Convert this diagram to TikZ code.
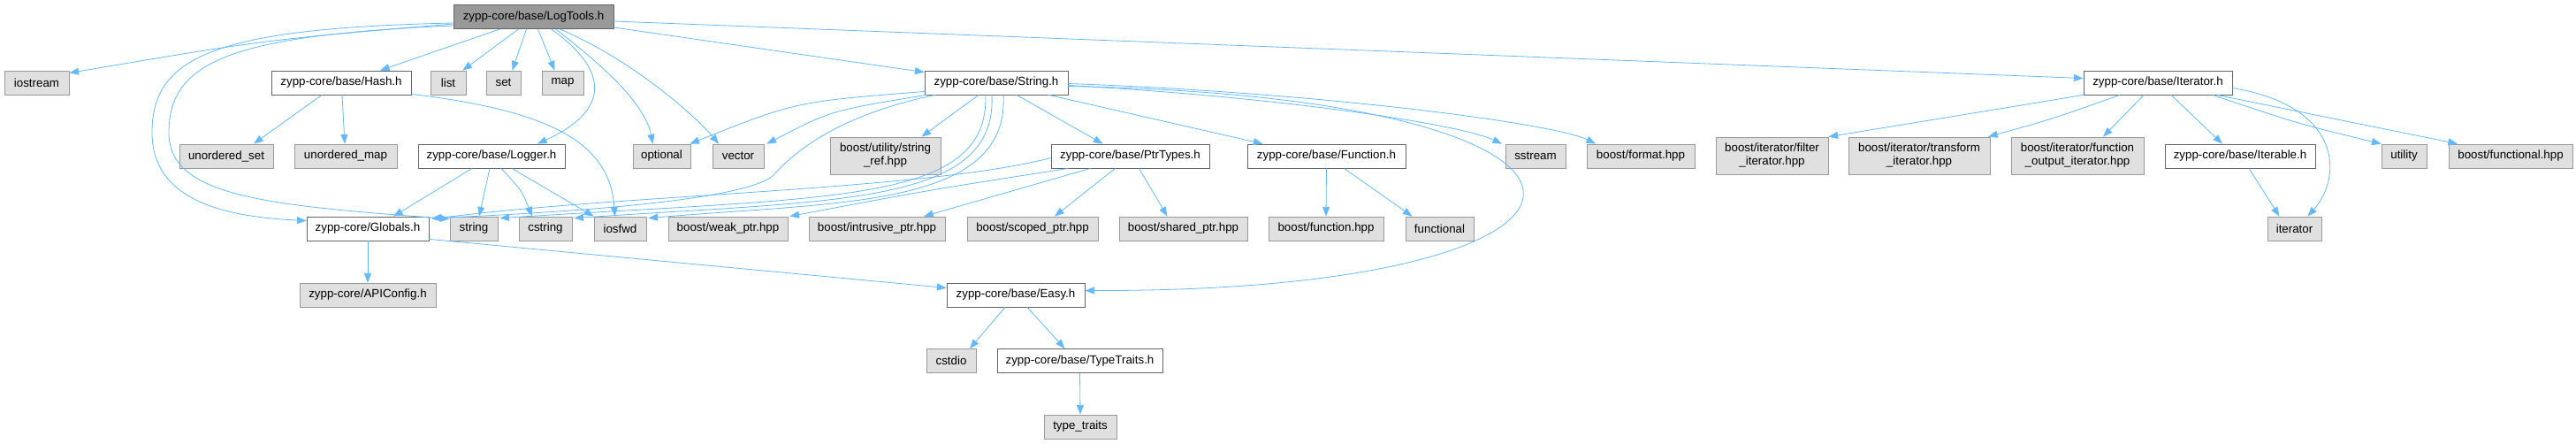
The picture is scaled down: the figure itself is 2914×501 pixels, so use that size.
\documentclass[tikz,border=0pt]{standalone}
\usepackage{fontspec}
\setmainfont{Liberation Sans}
\usepackage{tikz}
\usetikzlibrary{calc,positioning,arrows.meta}
\definecolor{edgeblue}{HTML}{63B8FF}
\definecolor{extfill}{HTML}{E0E0E0}
\definecolor{extdraw}{HTML}{999999}
\definecolor{rootfill}{HTML}{999999}
\definecolor{hdrdraw}{HTML}{666666}

\begin{document}
\begin{tikzpicture}[x=0.75pt, y=-0.75pt,
  box/.style={draw, line width=0.6pt, inner sep=0pt, minimum height=20.25pt, font=\fontsize{10}{11.25}\selectfont},
  hdr/.style={box, draw=hdrdraw, fill=white, minimum width=#1*0.75pt},
  sys/.style={box, draw=extdraw, fill=extfill, minimum width=#1*0.75pt},
  sys2/.style={sys=#1, minimum height=31.5pt, align=center},
  root/.style={box, draw=hdrdraw, fill=rootfill, minimum width=#1*0.75pt},
  inc/.style={draw=edgeblue, line width=0.6pt, -{Triangle[length=8pt,width=6pt]}}]
\useasboundingbox (0,0) rectangle (2914,501);

% row 0
\node[root=181] (logtools) at (603.5,19) {zypp-core/base/LogTools.h};
% row 1
\node[sys=73] (iostream) at (41.5,93.5) {iostream};
\node[hdr=158] (hash) at (386,93.5) {zypp-core/base/Hash.h};
\node[sys=40] (list) at (507,93.5) {list};
\node[sys=39] (set) at (569.5,93.5) {set};
\node[sys=47] (map) at (636.5,93.5) {map};
\node[hdr=162] (strh) at (1127,93.5) {zypp-core/base/String.h};
\node[hdr=168] (iterh) at (2441,93.5) {zypp-core/base/Iterator.h};
% row 2
\node[sys=106] (uset) at (256,176.5) {unordered\_set};
\node[sys=116] (umap) at (391,176.5) {unordered\_map};
\node[hdr=166] (logger) at (556,176.5) {zypp-core/base/Logger.h};
\node[sys=65] (optional) at (748.5,176.5) {optional};
\node[sys=58] (vector) at (835,176.5) {vector};
\node[sys2=125] (stringref) at (1001.5,176) {boost/utility/string\\\_ref.hpp};
\node[hdr=179] (ptrtypes) at (1278.5,176.5) {zypp-core/base/PtrTypes.h};
\node[hdr=179] (function) at (1500.5,176.5) {zypp-core/base/Function.h};
\node[sys=68] (sstream) at (1737,176.5) {sstream};
\node[sys=122] (format) at (1856,176.5) {boost/format.hpp};
\node[sys2=127] (filter) at (2004.5,176) {boost/iterator/filter\\\_iterator.hpp};
\node[sys2=160] (transform) at (2171,176) {boost/iterator/transform\\\_iterator.hpp};
\node[sys2=150] (funcout) at (2350,176) {boost/iterator/function\\\_output\_iterator.hpp};
\node[hdr=170] (iterable) at (2534,176.5) {zypp-core/base/Iterable.h};
\node[sys=51] (utility) at (2719.5,176.5) {utility};
\node[sys=140] (bfunctional) at (2840,176.5) {boost/functional.hpp};
% row 3
\node[hdr=138] (globals) at (416,258.5) {zypp-core/Globals.h};
\node[sys=54] (string) at (536,258.5) {string};
\node[sys=60] (cstring) at (617,258.5) {cstring};
\node[sys=59] (iosfwd) at (701.5,258.5) {iosfwd};
\node[sys=135] (weakptr) at (823.5,258.5) {boost/weak\_ptr.hpp};
\node[sys=154] (intrusiveptr) at (992,258.5) {boost/intrusive\_ptr.hpp};
\node[sys=148] (scopedptr) at (1168,258.5) {boost/scoped\_ptr.hpp};
\node[sys=145] (sharedptr) at (1338.5,258.5) {boost/shared\_ptr.hpp};
\node[sys=130] (bfunction) at (1500,258.5) {boost/function.hpp};
\node[sys=77] (functional) at (1628.5,258.5) {functional};
\node[sys=61] (iterator) at (2595.5,258.5) {iterator};
% rows 4 to 6
\node[sys=154] (apiconfig) at (416,333.5) {zypp-core/APIConfig.h};
\node[hdr=156] (easy) at (1149,333.5) {zypp-core/base/Easy.h};
\node[sys=56] (cstdio) at (1076,408) {cstdio};
\node[hdr=187] (typetraits) at (1221.5,408) {zypp-core/base/TypeTraits.h};
\node[sys=82] (traits) at (1222,482.5) {type\_traits};

% LogTools.h
\draw[inc] ($(logtools.west)+(0,8)$) .. controls (300,45) .. ($(iostream.east)+(0,-11)$);
\draw[inc] ($(logtools.west)+(0,7)$) .. controls (240,32) and (172,65) .. (172,150)
  .. controls (172,225) and (250,245) .. ($(globals.west)+(0,-9)$);
\draw[inc] ($(logtools.west)+(0,10)$) .. controls (260,40) and (191,70) .. (191,150)
  .. controls (191,222) and (300,232) .. ($(string.west)+(0,-11)$);
\draw[inc] ($(logtools.south)+(-38,0)$) -- ($(hash.north)+(44,0)$);
\draw[inc] ($(logtools.south)+(-17,0)$) -- ($(list.north east)+(-4,0)$);
\draw[inc] ($(logtools.south)+(-8,0)$) -- ($(set.north)+(10,0)$);
\draw[inc] ($(logtools.south)+(5,0)$) -- ($(map.north)+(-9,0)$);
\draw[inc] ($(logtools.south)+(20,0)$) .. controls (690,80) and (690,125) .. ($(logger.north)+(52,0)$);
\draw[inc] ($(logtools.south)+(25,0)$) .. controls (690,80) and (730,120) .. ($(optional.north)+(-10,0)$);
\draw[inc] ($(logtools.south)+(30,0)$) .. controls (720,70) and (790,135) .. ($(vector.north)+(-22,0)$);
\draw[inc] ($(logtools.east)+(0,12)$) -- ($(strh.north west)+(0,2)$);
\draw[inc] ($(logtools.east)+(0,5)$) -- ($(iterh.west)+(0,-5)$);

% Hash.h
\draw[inc] ($(hash.south)+(-22,0)$) -- ($(uset.north)+(31,0)$);
\draw[inc] ($(hash.south)+(1,0)$) -- ($(umap.north)+(-1,0)$);
\draw[inc] ($(hash.south east)+(0,-1)$) .. controls (620,125) and (690,160) .. ($(iosfwd.north)+(-6,0)$);

% Logger.h
\draw[inc] ($(logger.south)+(-22,0)$) -- ($(globals.north)+(29,0)$);
\draw[inc] ($(logger.south)+(-2,0)$) -- ($(string.north)+(6,0)$);
\draw[inc] ($(logger.south)+(11,0)$) .. controls (590,215) .. ($(cstring.north)+(-15,0)$);
\draw[inc] ($(logger.south)+(23,0)$) -- (iosfwd.north west);

% String.h
\draw[inc] ($(strh.south)+(-20,0)$) -- ($(stringref.north)+(41,0)$);
\draw[inc] ($(strh.south)+(23,0)$) -- ($(ptrtypes.north)+(-31,0)$);
\draw[inc] ($(strh.south east)+(-22,0)$) -- ($(function.north)+(-72,0)$);
\draw[inc] ($(strh.east)+(0,3)$) .. controls (1450,110) and (1650,140) .. ($(sstream.north)+(-38,0)$);
\draw[inc] ($(strh.east)+(0,1)$) .. controls (1500,105) and (1760,140) .. ($(format.north)+(-51,0)$);
\draw[inc] ($(strh.east)+(0,4)$) .. controls (1900,110) and (1880,330) .. ($(easy.east)+(0,-5)$);
\draw[inc] ($(strh.west)+(0,10)$) .. controls (900,115) .. ($(optional.north east)+(-1,0)$);
\draw[inc] ($(strh.south west)+(2,0)$) .. controls (940,125) .. ($(vector.north east)+(3,0)$);
\draw[inc] ($(strh.south west)+(12,0)$) .. controls (950,130) and (900,170) .. (875,198)
  .. controls (845,226) and (650,240) .. ($(globals.north east)+(3,2)$);
\draw[inc] ($(strh.south)+(-12,0)$) .. controls (1118,230) and (950,222) .. ($(string.north east)+(2,2)$);
\draw[inc] ($(strh.south)+(-5,0)$) .. controls (1128,232) and (950,226) .. ($(cstring.north east)+(2,2)$);
\draw[inc] ($(strh.south)+(8,0)$) .. controls (1142,235) and (950,228) .. ($(iosfwd.north east)+(2,2)$);

% PtrTypes.h
\draw[inc] ($(ptrtypes.west)+(0,2)$) .. controls (1050,215) and (700,220) .. ($(globals.north east)+(3,3)$);
\draw[inc] ($(ptrtypes.south west)+(20,0)$) .. controls (1050,215) .. ($(weakptr.north east)+(2,0)$);
\draw[inc] ($(ptrtypes.south)+(-45,0)$) -- ($(intrusiveptr.north)+(53,0)$);
\draw[inc] ($(ptrtypes.south)+(-17,0)$) -- ($(scopedptr.north)+(25,0)$);
\draw[inc] ($(ptrtypes.south)+(10,0)$) -- ($(sharedptr.north)+(-18,0)$);

% Function.h
\draw[inc] (function.south) -- (bfunction.north);
\draw[inc] ($(function.south)+(20,0)$) -- ($(functional.north)+(-31,0)$);

% Iterator.h
\draw[inc] (iterh.south west) .. controls (2250,125) .. (filter.north east);
\draw[inc] ($(iterh.south)+(-43,0)$) .. controls (2320,135) .. ($(transform.north)+(78,0)$);
\draw[inc] ($(iterh.south)+(-16,0)$) -- ($(funcout.north)+(29,0)$);
\draw[inc] ($(iterh.south)+(15,0)$) -- ($(iterable.north)+(-20,0)$);
\draw[inc] ($(iterh.south)+(62,0)$) .. controls (2600,140) .. (utility.north west);
\draw[inc] ($(iterh.south)+(67,0)$) -- ($(bfunctional.north)+(-60,0)$);
\draw[inc] ($(iterh.east)+(0,6)$) .. controls (2650,120) and (2650,200) .. ($(iterator.north)+(15,0)$);
\draw[inc] ($(iterable.south)+(10,0)$) -- ($(iterator.north)+(-17,0)$);

% Globals.h, Easy.h, TypeTraits.h
\draw[inc] (globals.south) -- (apiconfig.north);
\draw[inc] ($(globals.south east)+(0,-2)$) -- ($(easy.west)+(0,-8)$);
\draw[inc] ($(easy.south)+(-12,0)$) -- ($(cstdio.north)+(21,0)$);
\draw[inc] ($(easy.south)+(13,0)$) -- ($(typetraits.north)+(-17,0)$);
\draw[inc] (typetraits.south) -- (traits.north);

\end{tikzpicture}
\end{document}
